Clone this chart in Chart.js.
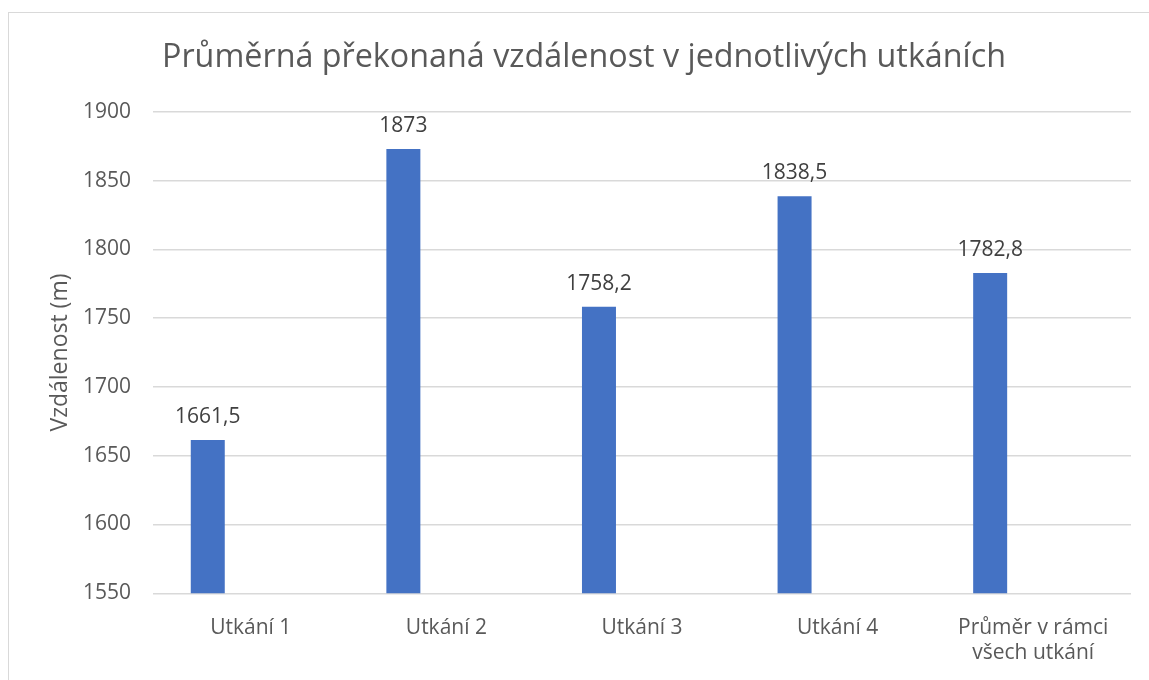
<!DOCTYPE html>
<html>
<head>
<meta charset="utf-8">
<script src="https://cdn.jsdelivr.net/npm/chart.js@4.4.1/dist/chart.umd.min.js"></script>
<style>
  html, body { margin: 0; padding: 0; background: #fff; overflow: hidden; }
  #frame { position: absolute; left: 8px; top: 12px; width: 1200px; height: 720px; border: 1px solid #d9d9d9; box-sizing: border-box; }
  #wrap { position: absolute; left: 0; top: 0; width: 1149px; height: 680px; }
</style>
</head>
<body>
<div id="frame"></div>
<div id="wrap"><canvas id="c" width="1149" height="680"></canvas></div>
<script>
const chartTitle = "Průměrná překonaná vzdálenost v jednotlivých utkáních";
const yAxisTitle = "Vzdálenost (m)";
const categories = ["Utkání 1", "Utkání 2", "Utkání 3", "Utkání 4", ["Průměr v rámci", "všech utkání"]];
const distances = [1661.5, 1873, 1758.2, 1838.5, 1782.8];
const emptySeries = [null, null, null, null, null];
const yMin = 1550, yMax = 1900, yStep = 50;

const FONT = "'Open Sans', 'Noto Sans', sans-serif";

const valueLabels = {
  id: 'valueLabels',
  afterDatasetsDraw(chart) {
    const ctx = chart.ctx;
    const meta = chart.getDatasetMeta(0);
    ctx.save();
    ctx.font = "21px " + FONT;
    ctx.fillStyle = "#404040";
    ctx.textAlign = "center";
    ctx.textBaseline = "alphabetic";
    meta.data.forEach((bar, i) => {
      const v = chart.data.datasets[0].data[i];
      if (v == null) return;
      ctx.fillText(String(v).replace('.', ','), bar.x, bar.y - 17);
    });
    ctx.restore();
  }
};

new Chart(document.getElementById('c'), {
  type: 'bar',
  data: {
    labels: categories,
    datasets: [
      { label: 'Vzdálenost', data: distances, backgroundColor: '#4472C4', borderWidth: 0 },
      { label: '', data: emptySeries, backgroundColor: '#ED7D31', borderWidth: 0 }
    ]
  },
  options: {
    responsive: false,
    animation: false,
    devicePixelRatio: 1,
    layout: { padding: { left: 37, right: 18, top: 0, bottom: 0 } },
    datasets: { bar: { categoryPercentage: 0.88, barPercentage: 0.395 } },
    plugins: {
      legend: { display: false },
      tooltip: { enabled: false },
      title: {
        display: true,
        text: chartTitle,
        color: '#595959',
        font: { family: FONT, size: 32.3, weight: 'normal' },
        padding: { top: 38, bottom: 35 }
      }
    },
    scales: {
      x: {
        grid: { display: false },
        border: { display: false },
        ticks: {
          color: '#595959',
          font: { family: FONT, size: 21 },
          padding: 14,
          maxRotation: 0,
          autoSkip: false
        },
        afterFit(scale) { scale.height = 86.7; }
      },
      y: {
        min: yMin,
        max: yMax,
        grid: { color: '#d9d9d9', lineWidth: 1.5, drawTicks: false },
        border: { display: false },
        ticks: {
          stepSize: yStep,
          color: '#595959',
          font: { family: FONT, size: 21 },
          padding: 22,
          callback: (v) => String(v)
        },
        title: {
          display: true,
          text: yAxisTitle,
          color: '#595959',
          font: { family: FONT, size: 23, weight: 'normal' },
          padding: { top: 10, bottom: 0 }
        },
        afterFit(scale) { scale.width = 116; }
      }
    }
  },
  plugins: [valueLabels]
});
</script>
</body>
</html>
